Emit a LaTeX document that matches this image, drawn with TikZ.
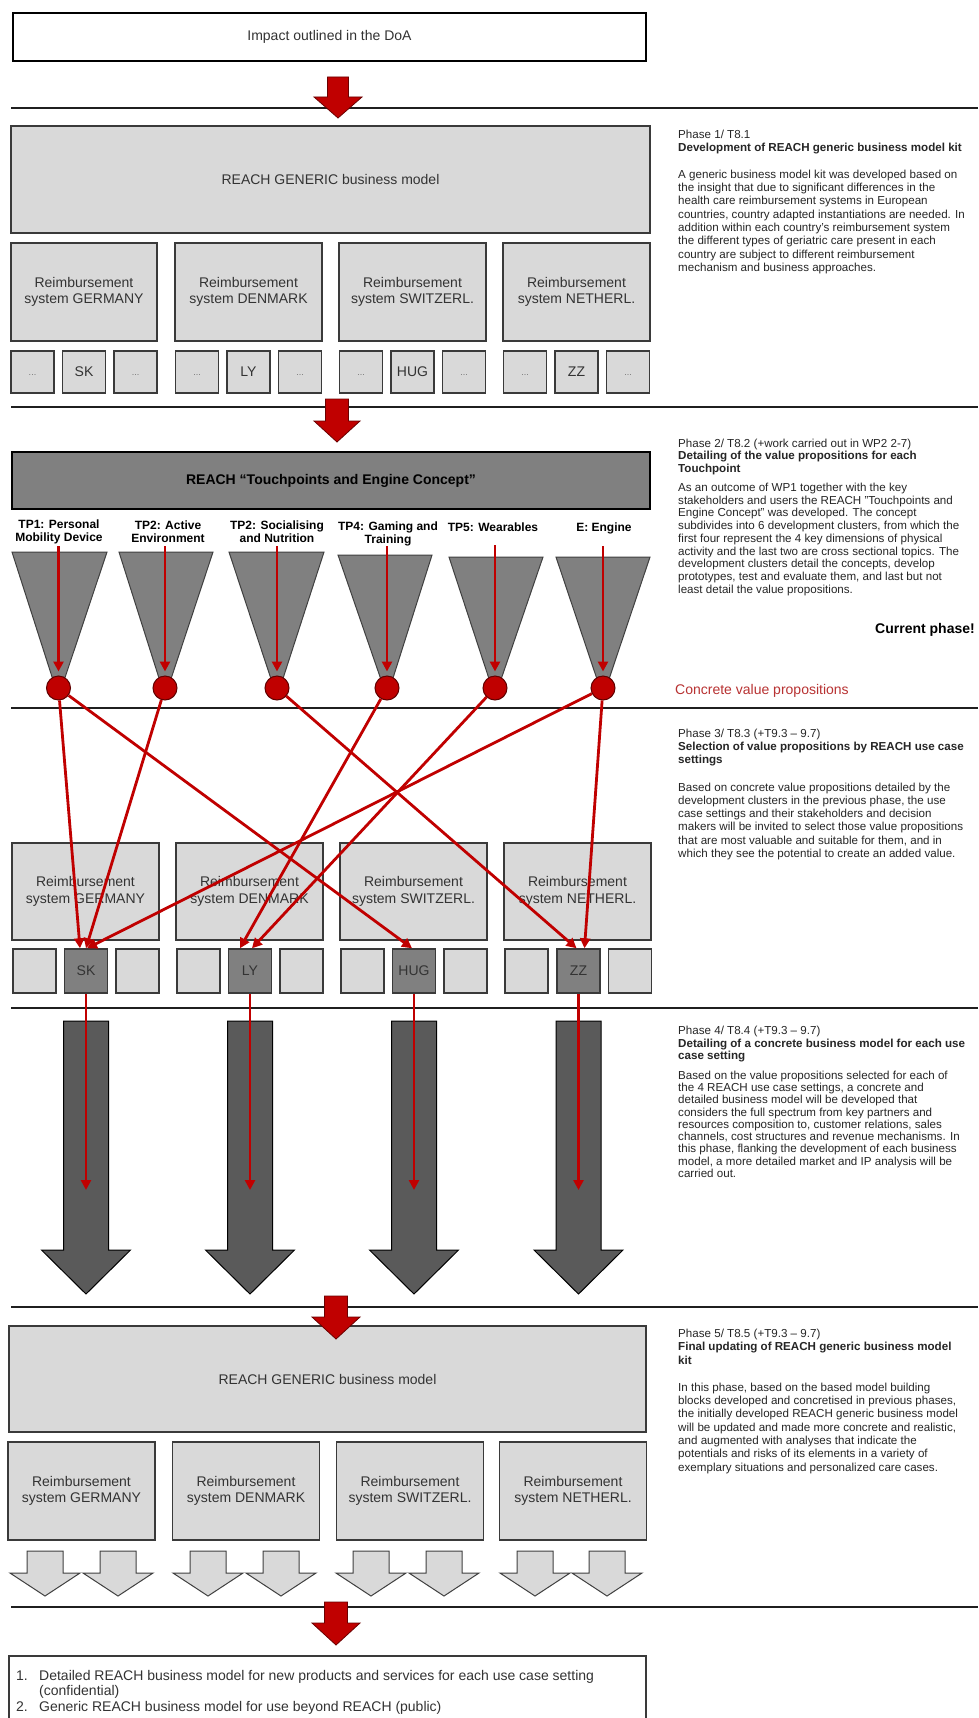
\documentclass[tikz,border=0pt]{standalone}
\usepackage{fontspec}
\setmainfont{Liberation Sans}
\usetikzlibrary{arrows.meta}
\definecolor{lgray}{HTML}{D9D9D9}
\definecolor{mgray}{HTML}{808080}
\definecolor{dgray}{HTML}{5A5A5A}
\definecolor{rred}{HTML}{C00000}
\definecolor{txtred}{HTML}{B83232}
\definecolor{bord}{HTML}{3A3A3A}
\newcommand\blkarrow[7]{%
  \draw[#7] (#1-#5,#2) -- (#1+#5,#2) -- (#1+#5,#3) -- (#1+#6,#3) -- (#1,#4) -- (#1-#6,#3) -- (#1-#5,#3) -- cycle;}
\tikzset{
  lbox/.style={draw=bord, line width=1.5pt, fill=lgray, inner sep=0pt, align=center,
    font=\fontsize{14}{16.5}\selectfont, text=black!80},
  cbox/.style={lbox, minimum width=147pt, minimum height=98pt},
  sbox/.style={lbox, minimum width=43pt, minimum height=43pt},
  hbox/.style={sbox, fill=mgray},
  dots/.style={font=\fontsize{9}{10}\selectfont, text=black!55},
  sepline/.style={line width=1.8pt, draw=black!88},
  redarr/.style={draw=rred, line width=2.8pt, -{Triangle[length=10pt,width=10pt]}},
  redblk/.style={fill=rred, draw=rred!55!black, line width=0.8pt},
  darkblk/.style={fill=dgray, draw=black, line width=1pt},
  lightblk/.style={fill=lgray, draw=black!75, line width=1pt},
  funnel/.style={fill=mgray, draw=black!75, line width=1pt},
  vp/.style={circle, fill=rred, draw=rred!50!black, line width=1pt, minimum size=24pt, inner sep=0pt},
  tplab/.style={align=center, inner sep=0pt, font=\bfseries\fontsize{12}{13}\selectfont},
  rtxt/.style={anchor=north west, inner sep=0pt, align=left, text=black!85,
    font=\fontsize{11.6}{#1}\selectfont},
}
\begin{document}
\begin{tikzpicture}[x=1pt,y=-1pt]
\useasboundingbox (0,0) rectangle (978,1718);
\clip (0,0) rectangle (978,1718);
\fill[white] (0,0) rectangle (978,1718);

% separators
\foreach \yy in {108,407,708,1008,1307,1607} \draw[sepline] (11,\yy) -- (978,\yy);

% ---------- top ----------
\node[lbox, draw=black, line width=2pt, fill=white, minimum width=633pt, minimum height=48pt] (doa) at (329.5,37) {Impact outlined in the DoA};

% ---------- phase 1 ----------
\node[lbox, minimum width=639pt, minimum height=107pt] (gen1) at (330.5,179.5) {REACH GENERIC business model};
\node[cbox, minimum width=146pt] (ger1) at (84,292) {Reimbursement\\system GERMANY};
\node[cbox] (den1) at (248.5,292) {Reimbursement\\system DENMARK};
\node[cbox] (swi1) at (412.5,292) {Reimbursement\\system SWITZERL.};
\node[cbox] (net1) at (576.5,292) {Reimbursement\\system NETHERL.};

\node[sbox, minimum height=42pt] (ger1a) at (32.5,372) {};
\node[sbox, minimum height=42pt] (ger1b) at (84,372) {SK};
\node[sbox, minimum height=42pt] (ger1c) at (135.5,372) {};
\node[sbox, minimum height=42pt] (den1a) at (197,372) {};
\node[sbox, minimum height=42pt] (den1b) at (248.5,372) {LY};
\node[sbox, minimum height=42pt] (den1c) at (300,372) {};
\node[sbox, minimum height=42pt] (swi1a) at (361,372) {};
\node[sbox, minimum height=42pt] (swi1b) at (412.5,372) {HUG};
\node[sbox, minimum height=42pt] (swi1c) at (464,372) {};
\node[sbox, minimum height=42pt] (net1a) at (525,372) {};
\node[sbox, minimum height=42pt] (net1b) at (576.5,372) {ZZ};
\node[sbox, minimum height=42pt] (net1c) at (628,372) {};
\foreach \n in {ger1a,ger1c,den1a,den1c,swi1a,swi1c,net1a,net1c}
  \node[dots] at ([yshift=-3pt]\n.center) {...};

\node[rtxt=13] (h1) at (678,129) {\strut Phase 1/ T8.1\\\textbf{Development of REACH generic business model kit}};
\node[rtxt=13.3] (b1) at (678,168.8) {\strut A generic business model kit was developed based on\\
the insight that due to significant differences in the\\
health care reimbursement systems in European\\
countries, country adapted instantiations are needed. In\\
addition within each country’s reimbursement system\\
the different types of geriatric care present in each\\
country are subject to different reimbursement\\
mechanism and business approaches.};

% ---------- phase 2 ----------
\node[lbox, draw=black, line width=2pt, fill=mgray, text=black, minimum width=638pt, minimum height=57pt,
  font=\bfseries\fontsize{14}{16}\selectfont] (tec) at (331,480.5) {REACH “Touchpoints and Engine Concept”};

\node[tplab] (t1) at (59,532) {TP1: Personal\\Mobility Device};
\node[tplab] (t2) at (168,532) {TP2: Active\\Environment};
\node[tplab] (t3) at (277,532) {TP2: Socialising\\and Nutrition};
\node[tplab] (t4) at (388,533.5) {TP4: Gaming and\\Training};
\node[tplab] (t5) at (493,527) {TP5: Wearables};
\node[tplab] (t6) at (604,528) {E: Engine};

\draw[funnel] (12,552) -- (107,552) -- (58.5,697) -- cycle;
\draw[funnel] (119,552) -- (213,552) -- (165,697) -- cycle;
\draw[funnel] (229,552) -- (324,552) -- (277,697) -- cycle;
\draw[funnel] (338,555) -- (432,555) -- (387,697) -- cycle;
\draw[funnel] (449,557) -- (543,557) -- (495,697) -- cycle;
\draw[funnel] (556,557) -- (650,557) -- (603,697) -- cycle;

\node[vp] (c1) at (58.5,688) {};
\node[vp] (c2) at (165,688) {};
\node[vp] (c3) at (277,688) {};
\node[vp] (c4) at (387,688) {};
\node[vp] (c5) at (495,688) {};
\node[vp] (c6) at (603,688) {};

\coordinate (a1) at (58.5,546);
\coordinate (a2) at (165,546);
\coordinate (a3) at (277,546);
\coordinate (a4) at (387,546);
\coordinate (a5) at (495,545);
\coordinate (a6) at (603,546);
\foreach \i in {1,...,6} \draw[redarr, shorten >=4pt] (a\i) -- (c\i.north);

\node[rtxt=12.5] (h2) at (678,438.4) {\strut Phase 2/ T8.2 (+work carried out in WP2 2-7)\\\textbf{Detailing of the value propositions for each}\\\textbf{Touchpoint}};
\node[rtxt=12.75] (b2) at (678,482.2) {\strut As an outcome of WP1 together with the key\\
stakeholders and users the REACH "Touchpoints and\\
Engine Concept" was developed. The concept\\
subdivides into 6 development clusters, from which the\\
first four represent the 4 key dimensions of physical\\
activity and the last two are cross sectional topics. The\\
development clusters detail the concepts, develop\\
prototypes, test and evaluate them, and last but not\\
least detail the value propositions.};
\node[anchor=west, inner sep=0pt, font=\bfseries\fontsize{14}{16}\selectfont] (cur) at (875,630) {Current phase!};
\node[anchor=west, inner sep=0pt, font=\fontsize{14}{16}\selectfont, text=txtred] (cvp) at (675,691) {Concrete value propositions};

% ---------- phase 3 ----------
\node[cbox, minimum height=97pt] (ger3) at (85.5,891.5) {Reimbursement\\system GERMANY};
\node[cbox, minimum height=97pt] (den3) at (249.5,891.5) {Reimbursement\\system DENMARK};
\node[cbox, minimum height=97pt] (swi3) at (413.5,891.5) {Reimbursement\\system SWITZERL.};
\node[cbox, minimum height=97pt] (net3) at (577.5,891.5) {Reimbursement\\system NETHERL.};

\node[sbox, minimum height=44pt] (ger3a) at (34.5,971) {};
\node[hbox, minimum height=44pt] (sk) at (86,971) {SK};
\node[sbox, minimum height=44pt] (ger3c) at (137.5,971) {};
\node[sbox, minimum height=44pt] (den3a) at (198.5,971) {};
\node[hbox, minimum height=44pt] (ly) at (250,971) {LY};
\node[sbox, minimum height=44pt] (den3c) at (301.5,971) {};
\node[sbox, minimum height=44pt] (swi3a) at (362.5,971) {};
\node[hbox, minimum height=44pt] (hug) at (414,971) {HUG};
\node[sbox, minimum height=44pt] (swi3c) at (465.5,971) {};
\node[sbox, minimum height=44pt] (net3a) at (526.5,971) {};
\node[hbox, minimum height=44pt] (zz) at (578.5,971) {ZZ};
\node[sbox, minimum height=44pt] (net3c) at (630,971) {};

\draw[redarr] (c1) -- ([xshift=-6pt]sk.north);
\draw[redarr] (c2) -- ([xshift=0pt]sk.north);
\draw[redarr] (c6) -- ([xshift=1pt]sk.north);
\draw[redarr] (c1) -- ([xshift=-2pt]hug.north);
\draw[redarr] (c3) -- ([xshift=-2pt]zz.north);
\draw[redarr] (c6) -- ([xshift=6pt]zz.north);
\draw[redarr] (c4) -- ([xshift=-10pt]ly.north);
\draw[redarr] (c5) -- ([xshift=2pt]ly.north);

\node[rtxt=13.3] (h3) at (678,727.8) {\strut Phase 3/ T8.3 (+T9.3 – 9.7)\\\textbf{Selection of value propositions by REACH use case}\\\textbf{settings}};
\node[rtxt=13.2] (b3) at (678,781.9) {\strut Based on concrete value propositions detailed by the\\
development clusters in the previous phase, the use\\
case settings and their stakeholders and decision\\
makers will be invited to select those value propositions\\
that are most valuable and suitable for them, and in\\
which they see the potential to create an added value.};

% ---------- phase 4 ----------
\blkarrow{86}{1021}{1250}{1294}{22.5}{44.5}{darkblk}
\blkarrow{250}{1021}{1250}{1294}{22.5}{44.5}{darkblk}
\blkarrow{414}{1021}{1250}{1294}{22.5}{44.5}{darkblk}
\blkarrow{578.5}{1021}{1250}{1294}{22.5}{44.5}{darkblk}
\coordinate (e1) at (86,1190);
\coordinate (e2) at (250,1190);
\coordinate (e3) at (414,1190);
\coordinate (e4) at (578.5,1190);
\draw[redarr] (sk) -- (e1);
\draw[redarr] (ly) -- (e2);
\draw[redarr] (hug) -- (e3);
\draw[redarr] (zz) -- (e4);

\node[rtxt=12] (h4) at (678,1025.75) {\strut Phase 4/ T8.4 (+T9.3 – 9.7)\\\textbf{Detailing of a concrete business model for each use}\\\textbf{case setting}};
\node[rtxt=12.25] (b4) at (678,1070.6) {\strut Based on the value propositions selected for each of\\
the 4 REACH use case settings, a concrete and\\
detailed business model will be developed that\\
considers the full spectrum from key partners and\\
resources composition to, customer relations, sales\\
channels, cost structures and revenue mechanisms. In\\
this phase, flanking the development of each business\\
model, a more detailed market and IP analysis will be\\
carried out.};

% ---------- phase 5 ----------
\node[lbox, minimum width=637pt, minimum height=106pt] (gen5) at (327.5,1379) {REACH GENERIC business model};
\node[cbox] (ger5) at (81.5,1491) {Reimbursement\\system GERMANY};
\node[cbox] (den5) at (246,1491) {Reimbursement\\system DENMARK};
\node[cbox] (swi5) at (410,1491) {Reimbursement\\system SWITZERL.};
\node[cbox] (net5) at (573,1491) {Reimbursement\\system NETHERL.};

\foreach \cx in {45,118,208,281,371,444,535,607}
  \blkarrow{\cx}{1551}{1573}{1596}{18}{35}{lightblk};

\node[rtxt=13.5] (h5) at (678,1327.7) {\strut Phase 5/ T8.5 (+T9.3 – 9.7)\\\textbf{Final updating of REACH generic business model}\\\textbf{kit}};
\node[rtxt=13.3] (b5) at (678,1381.8) {\strut In this phase, based on the based model building\\
blocks developed and concretised in previous phases,\\
the initially developed REACH generic business model\\
will be updated and made more concrete and realistic,\\
and augmented with analyses that indicate the\\
potentials and risks of its elements in a variety of\\
exemplary situations and personalized care cases.};

% ---------- bottom ----------
\node[lbox, draw=bord, line width=1.5pt, fill=white, minimum width=637pt, minimum height=80pt] (res) at (327.5,1696) {};
\node[anchor=north west, inner sep=0pt, align=left, text=black!80, font=\fontsize{14}{15.5}\selectfont] (resn) at (16,1669) {\strut 1.\\\strut\\\strut 2.};
\node[anchor=north west, inner sep=0pt, align=left, text=black!80, font=\fontsize{14}{15.5}\selectfont] (rest) at (39,1669) {\strut Detailed REACH business model for new products and services for each use case setting\\(confidential)\\Generic REACH business model for use beyond REACH (public)};

% ---------- red block arrows ----------
\blkarrow{338}{77}{97}{118}{10.5}{24}{redblk}
\blkarrow{337}{399}{421}{442}{11.5}{23}{redblk}
\blkarrow{336}{1296}{1317}{1339}{11.5}{24}{redblk}
\blkarrow{336}{1602}{1623}{1645}{11.5}{24}{redblk}
\end{tikzpicture}
\end{document}
